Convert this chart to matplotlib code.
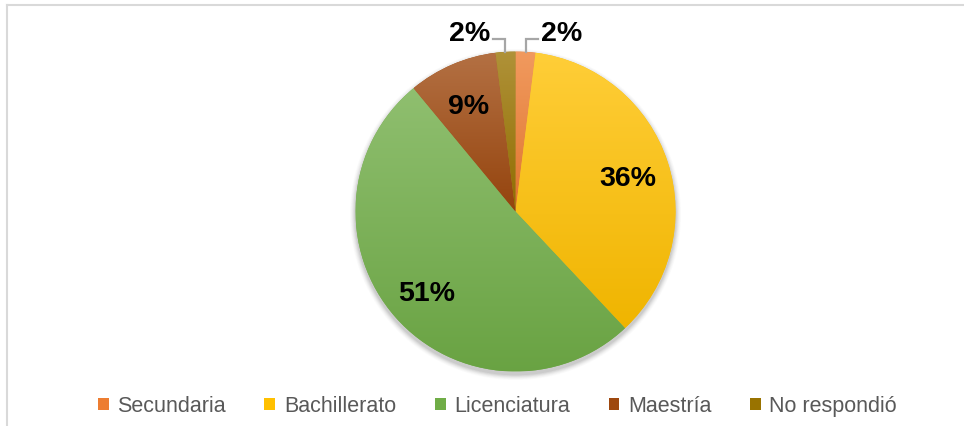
import numpy as np
import matplotlib
matplotlib.use("Agg")
import matplotlib.pyplot as plt
from matplotlib.patches import Patch, Circle
from matplotlib.lines import Line2D
from matplotlib.colors import to_rgb

categories = ["Secundaria", "Bachillerato", "Licenciatura", "Maestría", "No respondió"]
values = [2, 36, 51, 9, 2]
colors = ["#ED7D31", "#FFC000", "#70AD47", "#9E480E", "#997300"]

W, H = 964, 427
fig = plt.figure(figsize=(W / 100, H / 100), dpi=100)
ax = fig.add_axes([0, 0, 1, 1])

cx, cy, R = 515.5, 214.5, 160

# soft shadow
for k, a in zip(range(7, 0, -1), [0.015, 0.02, 0.025, 0.03, 0.035, 0.04, 0.05]):
    ax.add_patch(Circle((cx, cy - 3), R + k * 0.8, facecolor="black", alpha=a,
                        edgecolor="none", zorder=0))

wedges, _ = ax.pie(values, colors=colors, startangle=90, counterclock=False,
                   center=(cx, cy), radius=R, frame=True,
                   wedgeprops=dict(linewidth=0, zorder=1))

def mix(c, t, target):
    c = np.array(to_rgb(c))
    return c + (np.array(target) - c) * t

for w, c in zip(wedges, colors):
    ext = w.get_path().get_extents()
    top = mix(c, 0.22, (1, 1, 1))
    bot = mix(c, 0.06, (0, 0, 0))
    n = 256
    t = np.linspace(0, 1, n)[:, None]
    grad = bot[None, :] * (1 - t) + top[None, :] * t
    img = np.repeat(grad[:, None, :], 2, axis=1)
    im = ax.imshow(img, extent=(ext.x0, ext.x1, ext.y0, ext.y1), origin="lower",
                   aspect="auto", zorder=2, interpolation="bilinear")
    im.set_clip_path(w)

total = sum(values)
cum = 0
for w, v in zip(wedges, values):
    mid = 90 - (cum + v / 2) / total * 360
    cum += v
    ang = np.deg2rad(mid)
    lbl = f"{v}%"
    if v / total >= 0.05:
        d = 0.74 * R
        ax.text(cx + d * np.cos(ang), cy + d * np.sin(ang) - 3, lbl, ha="center", va="center",
                fontsize=20.5, fontweight="bold", family="Liberation Sans", color="black", zorder=5)
    else:
        ex, ey = cx + R * np.cos(ang), cy + R * np.sin(ang)
        side = 1 if np.cos(ang) > 0 else -1
        ly = ey + 12.5
        hx = ex + side * 12
        ax.plot([ex, ex, hx], [ey, ly, ly], color="#A6A6A6", lw=1.6, zorder=4,
                solid_joinstyle="miter")
        ax.text(hx + side * 3, ly + 6, lbl, ha="left" if side > 0 else "right", va="center",
                fontsize=20.5, fontweight="bold", family="Liberation Sans", color="black", zorder=5)

ax.set_xlim(0, W)
ax.set_ylim(0, H)
ax.set_aspect("auto")
ax.axis("off")

handles = [Patch(facecolor=c, edgecolor="none") for c in colors]
leg = ax.legend(handles, categories, loc="center", bbox_to_anchor=(0.516, 0.047),
                bbox_transform=fig.transFigure, ncol=5, frameon=False,
                prop=dict(family="Liberation Sans", size=15.5),
                handlelength=0.5, handleheight=0.5, handletextpad=0.4,
                columnspacing=1.8, borderpad=0)
for t in leg.get_texts():
    t.set_color("#595959")

# chart border (top and left visible)
fig.add_artist(Line2D([7 / W, 1], [1 - 5.5 / H, 1 - 5.5 / H], color="#D9D9D9", lw=1.5,
                      transform=fig.transFigure))
fig.add_artist(Line2D([7 / W, 7 / W], [0, 1 - 5.5 / H], color="#D9D9D9", lw=1.5,
                      transform=fig.transFigure))

fig.savefig("out.png", dpi=100, facecolor="white")
